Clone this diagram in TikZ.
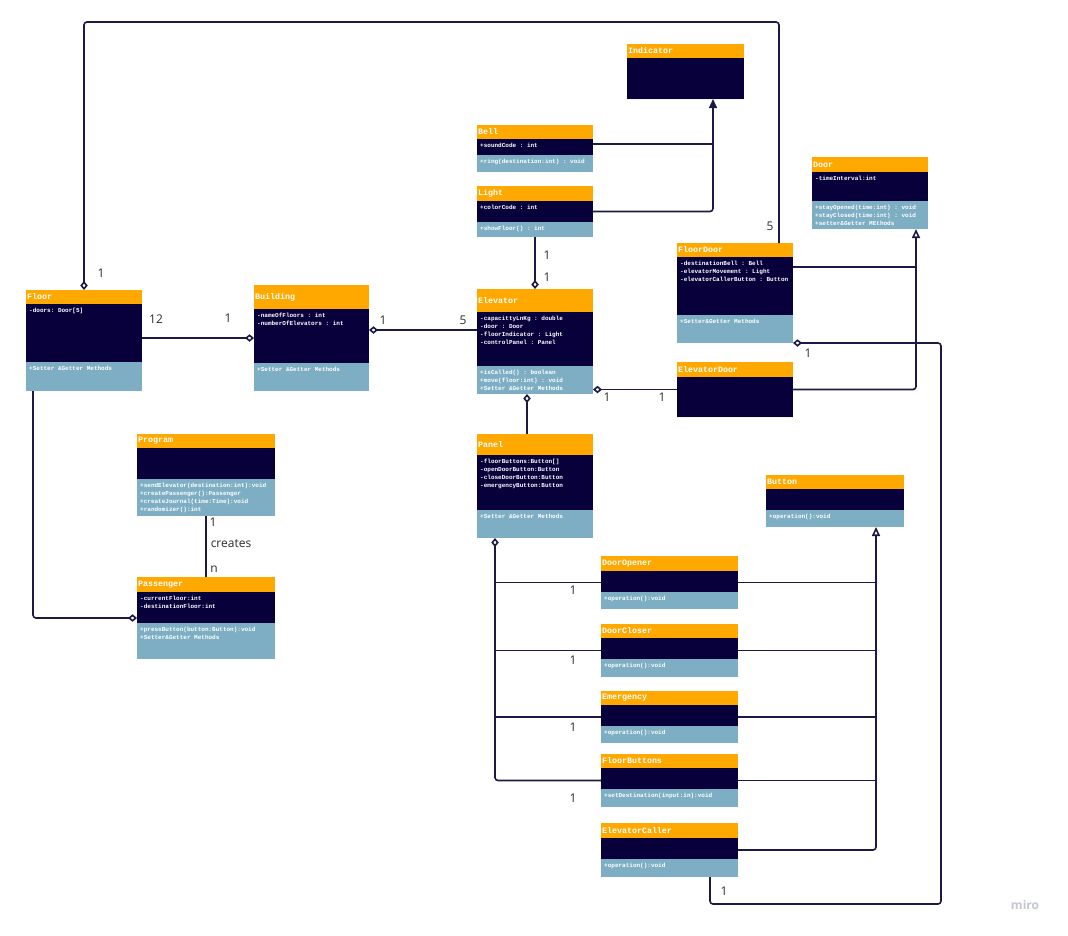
\documentclass[tikz,border=0pt]{standalone}
\usepackage{fontspec}
\setmainfont{Open Sans}
\setmonofont{Liberation Mono}
\usetikzlibrary{arrows.meta}

\definecolor{hdr}{HTML}{FFA800}
\definecolor{navy}{HTML}{07003A}
\definecolor{steel}{HTML}{7EAEC4}
\definecolor{wire}{HTML}{1C1A45}
\definecolor{lbl}{HTML}{2B2B2B}
\definecolor{logogray}{HTML}{C4C6D0}

% class box: name, left, right, top, header bottom, attribute bottom, bottom, title
\newcommand\umlclass[8]{%
  \fill[hdr] (#2,#4) rectangle (#3,#5);
  \fill[navy] (#2,#5) rectangle (#3,#6);
  \fill[steel] (#2,#6) rectangle (#3,#7);
  \node[box, minimum width={(#3-#2)*1pt}, minimum height={(#7-#4)*1pt}, anchor=north west] (#1) at (#2,#4) {};
  \node[hdrtext] (#1-title) at (#2,{(#4+#5)/2}) {#8};
  \coordinate (#1-a) at (#2,#5);
  \coordinate (#1-m) at (#2,#6);
}

\begin{document}
\begin{tikzpicture}[x=1pt,y=-1pt,
  box/.style={inner sep=0pt, outer sep=0pt, draw=none},
  hdrtext/.style={font=\ttfamily\bfseries\fontsize{8.3}{9}\selectfont, text=white, inner sep=1pt, anchor=west},
  attr/.style={font=\ttfamily\bfseries\fontsize{6}{8}\selectfont, text=white, inner sep=0pt,
    anchor=north west, align=left, xshift=3pt, yshift=-3.5pt,
    execute at begin node={\rule{0pt}{4.5pt}}},
  conn/.style={draw=wire, line width=1.6pt, rounded corners=3pt},
  aggS/.style={{Diamond[length=9pt,width=7.5pt,fill=white]}-},
  aggE/.style={-{Diamond[length=9pt,width=7.5pt,fill=white]}},
  genE/.style={-{Triangle[length=9pt,width=8pt,fill=white]}},
  navE/.style={-{Triangle[length=9pt,width=8pt]}},
  mult/.style={font=\fontsize{12}{14}\selectfont, text=lbl, inner sep=0pt},
]
\useasboundingbox[fill=white] (0,0) rectangle (1068,935);

% ---------- classes ----------
\umlclass{Floor}{26}{142}{290}{304}{362}{391}{Floor}
\umlclass{Building}{254}{369}{285}{309}{363}{391}{Building}
\umlclass{Elevator}{477}{593}{289}{312}{366}{394}{Elevator}
\umlclass{Bell}{477}{593}{125}{139}{155}{172}{Bell}
\umlclass{Light}{477}{593}{186}{201}{222}{237}{Light}
\umlclass{Indicator}{627}{744}{44}{58}{99}{99}{Indicator}
\umlclass{Door}{812}{928}{157}{172}{201}{229}{Door}
\umlclass{FloorDoor}{677}{793}{243}{257}{315}{343}{FloorDoor}
\umlclass{ElevatorDoor}{677}{793}{362}{377}{417}{417}{ElevatorDoor}
\umlclass{Panel}{477}{593}{434}{455}{510}{538}{Panel}
\umlclass{Program}{137}{275}{434}{448}{479}{516}{Program}
\umlclass{Passenger}{137}{275}{577}{592}{623}{659}{Passenger}
\umlclass{Button}{766}{904}{475}{489}{510}{527}{Button}
\umlclass{DoorOpener}{601}{738}{556}{571}{592}{609}{DoorOpener}
\umlclass{DoorCloser}{601}{738}{624}{638}{659}{677}{DoorCloser}
\umlclass{Emergency}{601}{738}{691}{705}{726}{743}{Emergency}
\umlclass{FloorButtons}{601}{738}{754}{768}{789}{807}{FloorButtons}
\umlclass{ElevatorCaller}{601}{738}{823}{838}{859}{877}{ElevatorCaller}

% ---------- members ----------
\node[attr] (Floor-at) at (Floor-a) {-doors: Door[5]};
\node[attr] (Floor-op) at (Floor-m) {+Setter \&Getter Methods};
\node[attr] (Building-at) at (Building-a) {-nameOfFloors : int\\-numberOfElevators : int};
\node[attr] (Building-op) at (Building-m) {+Setter \&Getter Methods};
\node[attr] (Elevator-at) at (Elevator-a) {-capacittyLnKg : double\\-door : Door\\-floorIndicator : Light\\-controlPanel : Panel};
\node[attr] (Elevator-op) at (Elevator-m) {+isCalled() : boolean\\+move(floor:int) : void\\+Setter \&Getter Methods};
\node[attr] (Bell-at) at (Bell-a) {+soundCode : int};
\node[attr] (Bell-op) at (Bell-m) {+ring(destination:int) : void};
\node[attr] (Light-at) at (Light-a) {+colorCode : int};
\node[attr] (Light-op) at (Light-m) {+showFloor() : int};
\node[attr] (Door-at) at (Door-a) {-timeInterval:int};
\node[attr] (Door-op) at (Door-m) {+stayOpened(time:int) : void\\+stayClosed(time:int) : void\\+setter\&Getter MEthods};
\node[attr] (FloorDoor-at) at (FloorDoor-a) {-destinationBell : Bell\\-elevatorMovement : Light\\-elevatorCallerButton : Button};
\node[attr] (FloorDoor-op) at (FloorDoor-m) {+Setter\&Getter Methods};
\node[attr] (Panel-at) at (Panel-a) {-floorButtons:Button[]\\-openDoorButton:Button\\-closeDoorButton:Button\\-emergencyButton:Button};
\node[attr] (Panel-op) at (Panel-m) {+Setter \&Getter Methods};
\node[attr] (Program-op) at (Program-m) {+sendElevator(destination:int):void\\+createPassenger():Passenger\\+createJournal(time:Time):void\\+randomizer():int};
\node[attr] (Passenger-at) at (Passenger-a) {-currentFloor:int\\-destinationFloor:int};
\node[attr] (Passenger-op) at (Passenger-m) {+pressButton(button:Button):void\\+Setter\&Getter Methods};
\node[attr] (Button-op) at (Button-m) {+operation():void};
\node[attr] (DoorOpener-op) at (DoorOpener-m) {+operation():void};
\node[attr] (DoorCloser-op) at (DoorCloser-m) {+operation():void};
\node[attr] (Emergency-op) at (Emergency-m) {+operation():void};
\node[attr] (FloorButtons-op) at (FloorButtons-m) {+setDestination(input:in):void};
\node[attr] (ElevatorCaller-op) at (ElevatorCaller-m) {+operation():void};

% ---------- connectors ----------
% Floor -- Building
\draw[conn, aggE] (Floor.east |- Building.west) -- (Building.west);
% Building -- Elevator
\path ([yshift=8pt]Building.east) coordinate (be);
\draw[conn, aggS] (be) -- (be -| Elevator.west);
% FloorDoor -- Floor (over the top)
\path ([xshift=44pt]FloorDoor.north) coordinate (fdTop);
\draw[conn, aggE] (fdTop) -- ++(0,-221) -| (Floor.north);
% Floor -- Passenger
\path ([xshift=-51pt]Floor.south) coordinate (flBot);
\draw[conn, aggE] (flBot) |- (Passenger.west);
% Program -- Passenger
\draw[conn] (Program.south) -- (Passenger.north);
% Light -- Elevator
\draw[conn, aggE] (Light.south) -- (Elevator.north);
% Bell, Light -> Indicator
\path ([xshift=27.5pt]Indicator.south) coordinate (indB);
\path (Bell.east) ++(0,-4.5) coordinate (bellR);
\draw[conn] (bellR) -- (bellR -| indB);
\draw[conn, navE] (Light.east) -| (indB);
% Elevator -- Panel
\path ([xshift=-8pt]Elevator.south) coordinate (elBot);
\draw[conn, aggS] (elBot) -- (elBot |- Panel.north);
% Elevator -- ElevatorDoor
\draw[conn, aggS] (Elevator.east |- ElevatorDoor.west) -- (ElevatorDoor.west);
% ElevatorDoor, FloorDoor -> Door
\path ([xshift=46pt]Door.south) coordinate (doorB);
\path (FloorDoor.east) ++(0,-26) coordinate (fdR);
\draw[conn, genE] (ElevatorDoor.east) -| (doorB);
\draw[conn] (fdR) -- (fdR -| doorB);
% FloorDoor -- ElevatorCaller
\path ([xshift=40.5pt]ElevatorCaller.south) coordinate (ecBot);
\draw[conn, aggS] (FloorDoor.south east) -- ++(148,0) -- ++(0,561) -| (ecBot);
% Panel -- button kinds
\path ([xshift=-40pt]Panel.south) coordinate (pnB);
\draw[conn, aggS] (pnB) |- (FloorButtons.west);
\foreach \c in {DoorOpener,DoorCloser,Emergency}
  \draw[conn] (\c.west -| pnB) -- (\c.west);
% button kinds -> Button
\path ([xshift=41pt]Button.south) coordinate (btB);
\draw[conn, genE] (ElevatorCaller.east) -| (btB);
\foreach \c in {DoorOpener,DoorCloser,Emergency,FloorButtons}
  \draw[conn] (\c.east) -- (\c.east -| btB);

% ---------- multiplicities ----------
\node[mult] (m1) at (156,319) {12};
\node[mult] (m2) at (228,318) {1};
\node[mult] (m3) at (383,320) {1};
\node[mult] (m4) at (463,320) {5};
\node[mult] (m5) at (547,255) {1};
\node[mult] (m6) at (547,277) {1};
\node[mult] (m7) at (770,226) {5};
\node[mult] (m8) at (101,273) {1};
\node[mult] (m9) at (607,397) {1};
\node[mult] (m10) at (662,397) {1};
\node[mult] (m11) at (808,353) {1};
\node[mult] (m12) at (213,522) {1};
\node[mult] (m13) at (231,544) {creates};
\node[mult] (m14) at (214,569) {n};
\node[mult] (m15) at (573,590) {1};
\node[mult] (m16) at (573,660) {1};
\node[mult] (m17) at (573,727) {1};
\node[mult] (m18) at (573,798) {1};
\node[mult] (m19) at (724,891) {1};

\node[font=\bfseries\fontsize{12}{14}\selectfont, text=logogray, inner sep=0pt] (logo) at (1025,905) {miro};
\end{tikzpicture}
\end{document}
